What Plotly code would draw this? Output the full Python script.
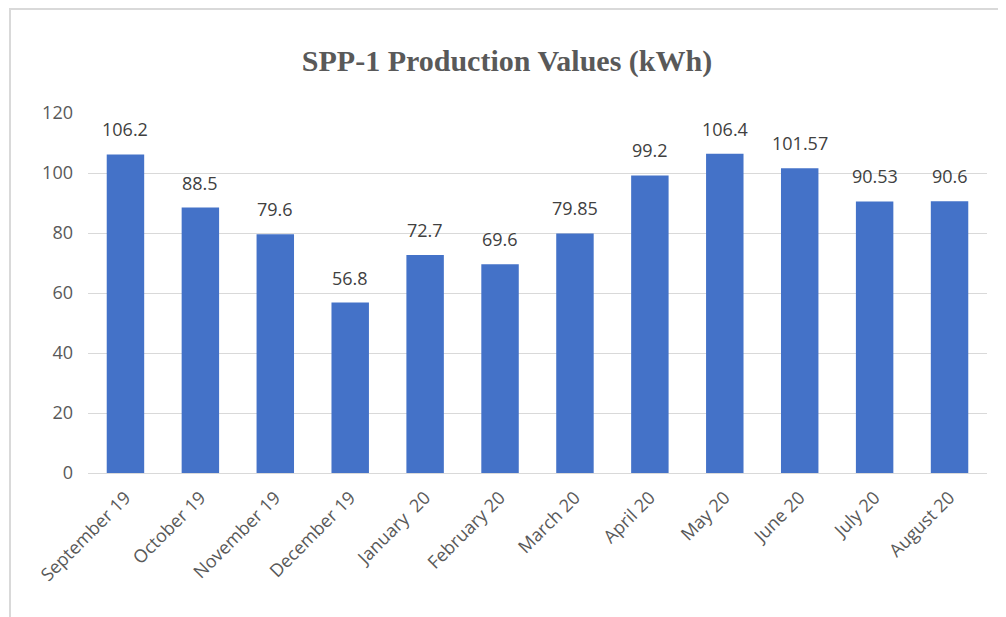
import plotly.graph_objects as go

months = ["September 19", "October 19", "November 19", "December 19", "January  20",
          "February 20", "March 20", "April 20", "May 20", "June 20", "July 20", "August 20"]
values = [106.2, 88.5, 79.6, 56.8, 72.7, 69.6, 79.85, 99.2, 106.4, 101.57, 90.53, 90.6]
labels = ["106.2", "88.5", "79.6", "56.8", "72.7", "69.6", "79.85", "99.2", "106.4", "101.57", "90.53", "90.6"]
y_ticks = [0, 20, 40, 60, 80, 100, 120]

FONT = "Open Sans, Liberation Sans, sans-serif"

fig = go.Figure(go.Bar(
    x=months, y=values,
    marker=dict(color="#4472C8", line=dict(width=0)),
    width=0.5,
))

annotations = [
    dict(x=m, y=v, text=t, showarrow=False, yanchor="bottom", yshift=11,
         font=dict(family=FONT, size=18, color="#404040"))
    for m, v, t in zip(months, values, labels)
]

W, H = 998, 609
L, R, T, B = 80, 19, 105, 144
pw, ph = W - L - R, H - T - B

fig.update_layout(
    width=W, height=H,
    paper_bgcolor="white", plot_bgcolor="white",
    margin=dict(l=L, r=R, t=T, b=B, autoexpand=False),
    title=dict(text="<b>SPP-1 Production Values (kWh)</b>", x=0.5, xanchor="center",
               y=1 - 52 / H, yanchor="middle",
               font=dict(family="Liberation Serif, Times New Roman, serif", size=30, color="#595959")),
    showlegend=False,
    annotations=annotations,
    xaxis=dict(tickangle=-45, tickfont=dict(family=FONT, size=18, color="#595959"),
               showline=True, linecolor="#d9d9d9", linewidth=1, ticks="", showgrid=False,
               ticklabelstandoff=6),
    yaxis=dict(range=[0, 120], tickvals=y_ticks, showgrid=True, gridcolor="#d9d9d9", gridwidth=1,
               zeroline=False, ticks="", ticklabelstandoff=14,
               tickfont=dict(family=FONT, size=18, color="#595959")),
    shapes=[
        dict(type="line", xref="paper", yref="paper", x0=-78 / pw, x1=-78 / pw,
             y0=-B / ph, y1=1 + T / ph, line=dict(color="#d9d9d9", width=2), layer="below"),
        dict(type="line", xref="paper", yref="paper", x0=-78 / pw, x1=1 + R / pw,
             y0=1 + (T - 1) / ph, y1=1 + (T - 1) / ph, line=dict(color="#d9d9d9", width=2), layer="below"),
    ],
)

fig.write_html("out.html")
